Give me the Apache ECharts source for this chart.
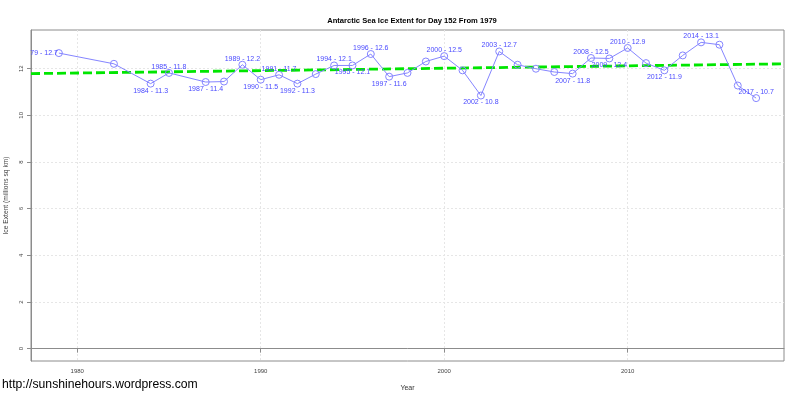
<!DOCTYPE html>
<html>
<head>
<meta charset="utf-8">
<script src="https://cdn.jsdelivr.net/npm/echarts@6/dist/echarts.min.js"></script>
<style>
html, body { margin: 0; padding: 0; background: #fff; }
#main { width: 800px; height: 399px; }
</style>
</head>
<body>
<div id="main"></div>
<script>
// years with a value for day 152 (some years are missing in the source)
var years = [1979, 1982, 1984, 1985, 1987, 1988, 1989, 1990, 1991, 1992, 1993, 1994, 1995, 1996, 1997, 1998, 1999, 2000,
             2001, 2002, 2003, 2004, 2005, 2006, 2007, 2008, 2009, 2010, 2011, 2012, 2013, 2014, 2015, 2016, 2017];
var extent = [12.67, 12.21, 11.36, 11.82, 11.43, 11.45, 12.17, 11.53, 11.74, 11.36, 11.77, 12.14, 12.14, 12.63, 11.66, 11.82, 12.31, 12.54,
              11.93, 10.85, 12.74, 12.17, 12.00, 11.86, 11.79, 12.46, 12.44, 12.89, 12.24, 11.93, 12.57, 13.13, 13.03, 11.28, 10.74];

// labelled points and the text shown next to them
var labelYears  = [1979, 1984, 1985, 1987, 1989, 1990, 1991, 1992, 1994, 1995, 1996, 1997, 2000, 2002, 2003, 2007, 2008, 2009, 2010, 2012, 2014, 2017];
var labelValues = ['12.7', '11.3', '11.8', '11.4', '12.2', '11.5', '11.7', '11.3', '12.1', '12.1', '12.6', '11.6', '12.5', '10.8', '12.7', '11.8', '12.5', '12.4', '12.9', '11.9', '13.1', '10.7'];

// trend line ends
var trendYears = [1977.48, 2018.52];
var trendValues = [11.79, 12.21];

var xTicks = [1980, 1990, 2000, 2010];
var yTicks = [0, 2, 4, 6, 8, 10, 12];

// where each label sits: 'l' left, 'a' above, 'b' below
var labelSide = {1979:'l', 1984:'b', 1985:'a', 1987:'b', 1989:'a', 1990:'b', 1991:'a', 1992:'b', 1994:'a', 1995:'b',
                 1996:'a', 1997:'b', 2000:'a', 2002:'b', 2003:'a', 2007:'b', 2008:'a', 2009:'b', 2010:'a', 2012:'b',
                 2014:'a', 2017:'a'};

var lineColor = '#8585ff';
var textColor = '#4a4aff';
var font = 'Liberation Sans, Arial, sans-serif';

var points = [];
for (var i = 0; i < years.length; i++) {
    var item = { value: [years[i], extent[i]] };
    var k = labelYears.indexOf(years[i]);
    if (k >= 0) {
        var side = labelSide[years[i]];
        var txt = years[i] + ' - ' + labelValues[k];
        if (side == 'l') {
            item.label = { show: true, position: 'left', distance: -3, formatter: txt };
        } else {
            item.label = { show: true, position: 'inside', offset: [0, side == 'a' ? -6 : 7], formatter: txt };
        }
    }
    points.push(item);
}

var trend = [];
for (var j = 0; j < trendYears.length; j++) {
    trend.push([trendYears[j], trendValues[j]]);
}

var axisGray = '#8c8c8c';

var option = {
    animation: false,
    backgroundColor: '#fff',
    title: {
        text: 'Antarctic Sea Ice Extent for Day 152 From 1979',
        left: 407, top: 12, textAlign: 'center',
        textStyle: { fontFamily: font, fontSize: 7.6, fontWeight: 'bold', color: '#000' }
    },
    grid: {
        left: 31, right: 16, top: 30, bottom: 38,
        containLabel: false, outerBoundsMode: 'none',
        show: true, borderColor: axisGray, borderWidth: 1
    },
    xAxis: {
        type: 'value',
        min: 1977.48, max: 2018.52,
        name: 'Year', nameLocation: 'middle', nameGap: 24,
        nameTextStyle: { fontFamily: font, fontSize: 7, color: '#333' },
        axisLine: { show: true, lineStyle: { color: axisGray } },
        axisTick: { show: true, length: 4, customValues: xTicks, lineStyle: { color: axisGray } },
        axisLabel: { customValues: xTicks, margin: 7, fontFamily: font, fontSize: 6, color: '#444',
                     formatter: function (v) { return String(v); } },
        splitLine: { show: true, lineStyle: { color: '#e6e6e6', type: [2, 2] } }
    },
    yAxis: {
        type: 'value',
        min: -0.53, max: 13.66,
        name: 'Ice Extent (millions sq km)', nameLocation: 'middle', nameGap: 21, nameRotate: 90,
        nameTextStyle: { fontFamily: font, fontSize: 6.7, color: '#444' },
        axisLine: { show: true, lineStyle: { color: axisGray } },
        axisTick: { show: true, length: 4, customValues: yTicks, lineStyle: { color: axisGray } },
        axisLabel: { customValues: yTicks, rotate: 90, margin: 7, fontFamily: font, fontSize: 6, color: '#444' },
        splitLine: { show: true, lineStyle: { color: '#e6e6e6', type: [2, 2] } }
    },
    graphic: [{
        // the plot region clips the 1979 label at its left edge
        type: 'rect', left: 0, top: 47, z: 100,
        shape: { width: 30, height: 12 },
        style: { fill: '#fff' }
    }, {
        type: 'text', left: 2, top: 379,
        style: { text: 'http://sunshinehours.wordpress.com', font: '12.2px ' + font, fill: '#000' }
    }],
    series: [{
        type: 'line',
        data: points,
        symbol: 'circle', symbolSize: 7,
        lineStyle: { color: lineColor, width: 1 },
        itemStyle: { color: 'rgba(255,255,255,0)', borderColor: lineColor, borderWidth: 1 },
        label: { fontFamily: font, fontSize: 7, color: textColor },
        z: 3
    }, {
        type: 'line',
        data: trend,
        symbol: 'none',
        lineStyle: { color: '#00e600', width: 2.8, type: [9, 4] },
        z: 2
    }]
};

var myChart = echarts.init(document.getElementById('main'));
myChart.setOption(option);
</script>
</body>
</html>
